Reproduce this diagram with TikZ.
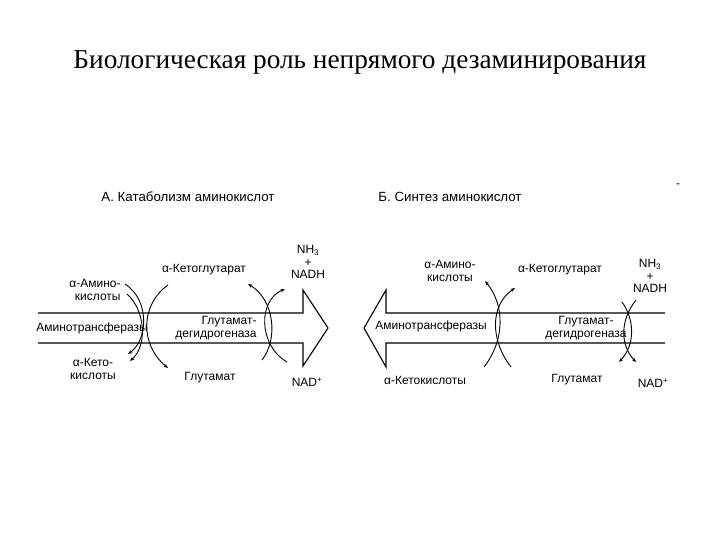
\documentclass[tikz,border=0pt]{standalone}
\usepackage{fontspec}
\setmainfont{Liberation Sans}
\newfontfamily\titlefont{Liberation Serif}
\usetikzlibrary{arrows.meta}
\begin{document}
\begin{tikzpicture}[x=1pt,y=-1pt,
  lbl/.style={font=\fontsize{12}{12.5}\selectfont,inner sep=0pt,align=center},
  ptitle/.style={font=\fontsize{13.3}{14}\selectfont,inner sep=0pt},
  body/.style={line width=1.1pt},
  crv/.style={line width=0.9pt},
  arr/.style={crv,-{Stealth[length=4.5pt,width=3.5pt]}}]
\useasboundingbox (0,0) rectangle (720,540);
\node[font=\titlefont\fontsize{27.3}{29}\selectfont] (title) at (360,62) {Биологическая роль непрямого дезаминирования};
% Panel A
\node[ptitle] (ta) at (188,197) {А. Катаболизм аминокислот};
\coordinate (a1) at (38,313); \coordinate (a2) at (303,313);
\coordinate (a3) at (303,290); \coordinate (a4) at (328,328);
\coordinate (a5) at (303,366); \coordinate (a6) at (303,343); \coordinate (a7) at (38,343);
\draw[body] (a1) -- (a2) -- (a3) -- (a4) -- (a5) -- (a6) -- (a7);
\node[lbl] (amA) at (92,328) {Аминотрансферазы};
\node[lbl,align=right] (gdA) at (216,328) {Глутамат-\\дегидрогеназа};
\node[lbl,align=right] (aaA) at (95,290) {α-Амино-\\кислоты};
\node[lbl] (kgA) at (204,270) {α-Кетоглутарат};
\node[lbl] (nhA) at (308,262) {NH\textsubscript{3}\\+\\NADH};
\node[lbl] (akA) at (93,369) {α-Кето-\\кислоты};
\node[lbl] (glA) at (210,378) {Глутамат};
\node[lbl] (ndA) at (307,382) {NAD\textsuperscript{+}};
\coordinate (s1) at (125,284); \coordinate (s2) at (127,294);
\coordinate (e1) at (128,354); \coordinate (e2) at (130,361);
\draw[arr] (s1) .. controls (150,300) and (148,340) .. (e1);
\draw[arr] (s2) .. controls (145,310) and (148,345) .. (e2);
\coordinate (s3) at (168,285); \coordinate (e3) at (168,368);
\draw[arr] (s3) .. controls (140,305) and (140,345) .. (e3);
\coordinate (s4) at (262,360); \coordinate (e4) at (248,284);
\draw[arr] (s4) .. controls (278,340) and (275,300) .. (e4);
\coordinate (s5) at (287,362); \coordinate (e5) at (285,289);
\draw[arr] (s5) .. controls (258,345) and (258,300) .. (e5);
% Panel B
\node[ptitle] (tb) at (450,197) {Б. Синтез аминокислот};
\node[lbl] (dash) at (678,186) {-};
\coordinate (b1) at (665,313); \coordinate (b2) at (386,313);
\coordinate (b3) at (386,290); \coordinate (b4) at (364,328);
\coordinate (b5) at (386,367); \coordinate (b6) at (386,343); \coordinate (b7) at (665,343);
\draw[body] (b1) -- (b2) -- (b3) -- (b4) -- (b5) -- (b6) -- (b7);
\node[lbl] (amB) at (431,326) {Аминотрансферазы};
\node[lbl] (gdB) at (586,328) {Глутамат-\\дегидрогеназа};
\node[lbl] (aaB) at (450,271) {α-Амино-\\кислоты};
\node[lbl] (kgB) at (560,270) {α-Кетоглутарат};
\node[lbl] (nhB) at (650,276) {NH\textsubscript{3}\\+\\NADH};
\node[lbl] (akB) at (425,380) {α-Кетокислоты};
\node[lbl] (glB) at (577,380) {Глутамат};
\node[lbl] (ndB) at (653,383) {NAD\textsuperscript{+}};
\coordinate (s6) at (484,367); \coordinate (e6) at (485,281);
\draw[arr] (s6) .. controls (505,340) and (505,305) .. (e6);
\coordinate (s7) at (511,367); \coordinate (e7) at (515,288);
\draw[arr] (s7) .. controls (490,340) and (490,305) .. (e7);
\coordinate (s8) at (622,302); \coordinate (e8) at (619,362);
\draw[arr] (s8) .. controls (635,320) and (635,345) .. (e8);
\coordinate (s9) at (636,300); \coordinate (e9) at (636,362);
\draw[arr] (s9) .. controls (620,320) and (620,345) .. (e9);
\end{tikzpicture}
\end{document}
